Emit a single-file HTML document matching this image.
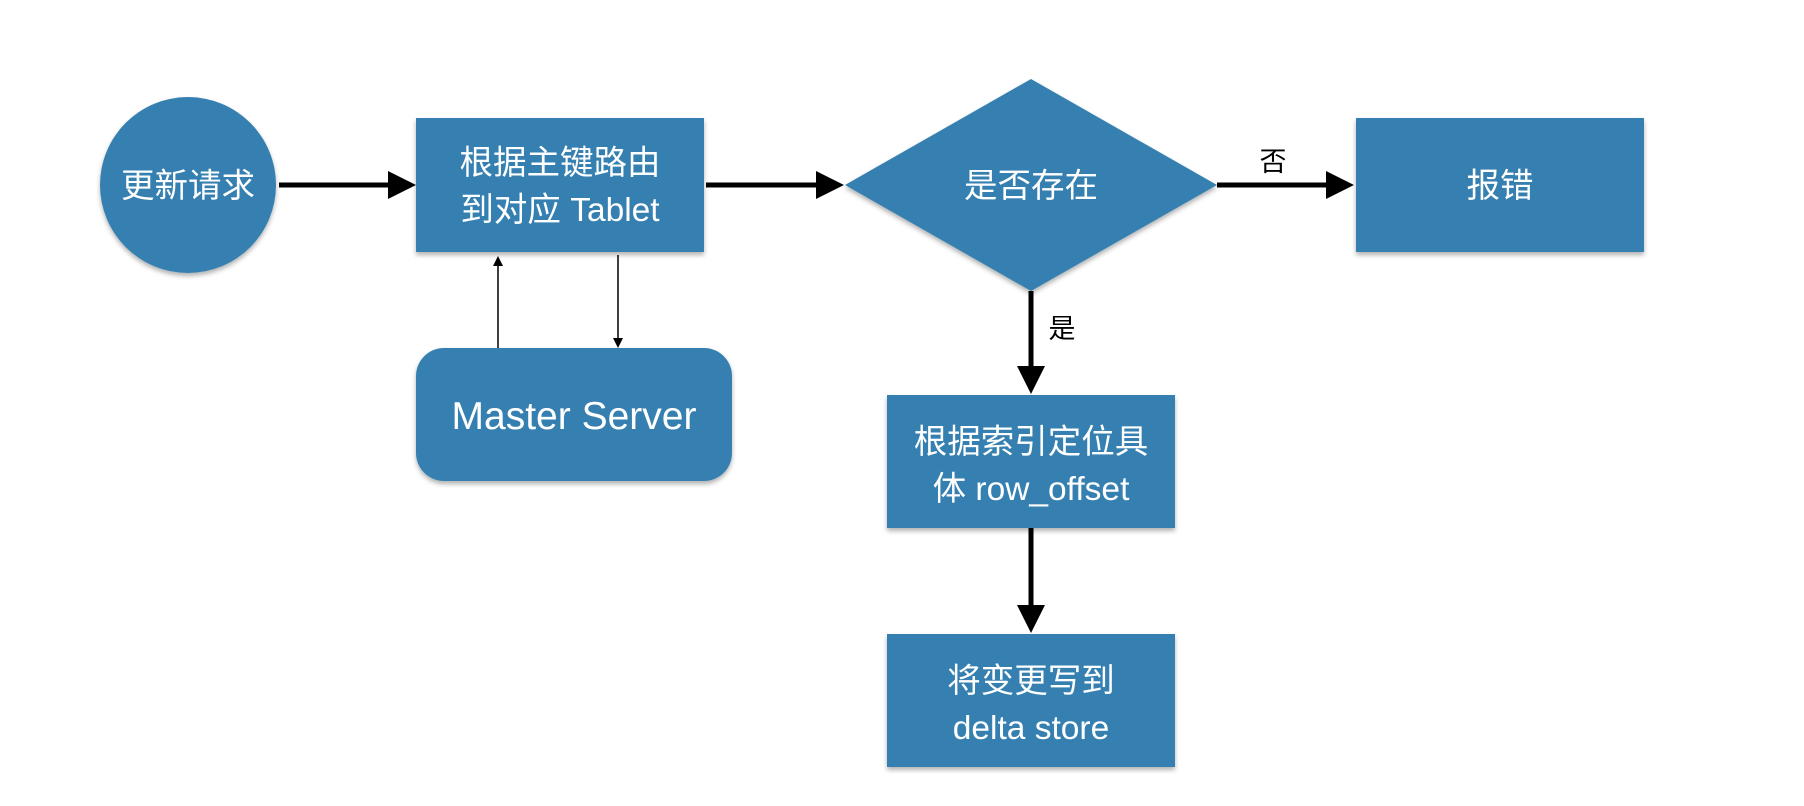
<!DOCTYPE html>
<html><head><meta charset="utf-8"><style>
html,body{margin:0;padding:0;background:#fff;}
svg{display:block}
text{font-family:"Liberation Sans","Noto Sans CJK SC",sans-serif;}
</style></head><body>
<svg width="1804" height="806" viewBox="0 0 1804 806" xmlns="http://www.w3.org/2000/svg">
<defs>
<filter id="sh" x="-10%" y="-10%" width="120%" height="130%"><feDropShadow dx="0" dy="3" stdDeviation="2.5" flood-color="#000" flood-opacity="0.3"/></filter>
</defs>
<g fill="#3580b1" filter="url(#sh)">
<circle cx="188" cy="185" r="88"/>
<rect x="416" y="118" width="288" height="134"/>
<rect x="416" y="348" width="316" height="133" rx="28"/>
<polygon points="845,185 1031,79 1217,185 1031,291"/>
<rect x="1356" y="118" width="288" height="134"/>
<rect x="887" y="395" width="288" height="133"/>
<rect x="887" y="634" width="288" height="133"/>
</g>
<g fill="#fff" font-size="33.5" text-anchor="middle">
<text x="188" y="197">更新请求</text>
<text x="560" y="174">根据主键路由</text>
<text x="560" y="221">到对应 Tablet</text>
<text x="574" y="429" font-size="39">Master Server</text>
<text x="1031" y="197">是否存在</text>
<text x="1500" y="197">报错</text>
<text x="1031" y="453">根据索引定位具</text>
<text x="1031" y="500">体 row_offset</text>
<text x="1031" y="692">将变更写到</text>
<text x="1031" y="739">delta store</text>
</g>
<g stroke="#000" stroke-width="5" fill="none">
<line x1="279" y1="185" x2="392" y2="185"/>
<line x1="706" y1="185" x2="820" y2="185"/>
<line x1="1217" y1="185" x2="1330" y2="185"/>
<line x1="1031" y1="291" x2="1031" y2="368"/>
<line x1="1031" y1="528" x2="1031" y2="607"/>
</g>
<g fill="#000">
<polygon points="388,171 416,185 388,199"/>
<polygon points="816,171 844,185 816,199"/>
<polygon points="1326,171 1354,185 1326,199"/>
<polygon points="1017,366 1045,366 1031,394"/>
<polygon points="1017,605 1045,605 1031,633"/>
</g>
<g stroke="#000" stroke-width="1.5">
<line x1="498" y1="348" x2="498" y2="264"/>
<line x1="618" y1="255" x2="618" y2="340"/>
</g>
<polygon points="493,266 503,266 498,256" fill="#000"/>
<polygon points="613,338 623,338 618,348" fill="#000"/>
<g fill="#000" font-size="27" text-anchor="middle">
<text x="1273" y="171">否</text>
<text x="1062" y="338">是</text>
</g>
</svg>
</body></html>
